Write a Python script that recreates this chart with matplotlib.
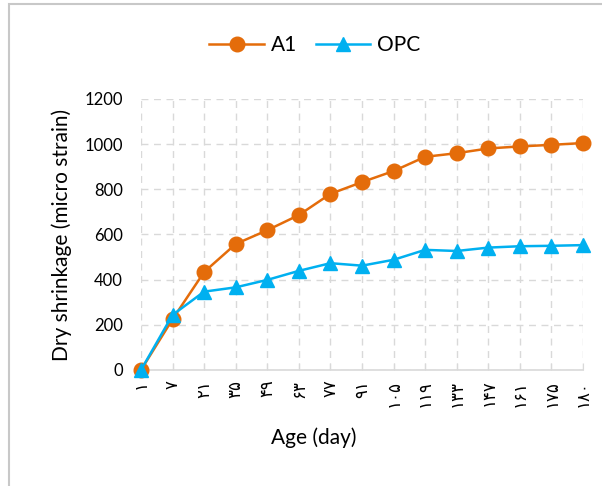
import matplotlib.pyplot as plt
from matplotlib.patches import Rectangle

# ages shown as Persian digits on the x axis
ages = ['۱', '۷', '۲۱', '۳۵', '۴۹', '۶۳', '۷۷', '۹۱', '۱۰۵', '۱۱۹',
        '۱۳۳', '۱۴۷', '۱۶۱', '۱۷۵', '۱۸۰']
a1 = [0, 225, 434, 558, 619, 686, 780, 832, 881, 944, 960, 981, 990, 997, 1005]
opc = [0, 244, 347, 366, 399, 439, 473, 462, 488, 532, 527, 542, 548, 550, 553]

plt.rcParams['font.family'] = ['Lato', 'DejaVu Sans']

fig = plt.figure(figsize=(6.02, 4.86), dpi=100)
ax = fig.add_axes([141/602, 1 - 370/486, 442/602, 271/486])

x = list(range(len(ages)))
orange = '#E46C0A'
blue = '#00B0F0'
ax.plot(x, a1, color=orange, linewidth=1.8, marker='o', markersize=10.5,
        label='A1', clip_on=False, zorder=3)
ax.plot(x, opc, color=blue, linewidth=1.8, marker='^', markersize=10,
        label='OPC', clip_on=False, zorder=4)

ax.set_xlim(0, len(ages) - 1)
ax.set_ylim(0, 1200)
ax.set_yticks(range(0, 1201, 200))
ax.set_xticks(x)
ax.set_xticklabels(ages, rotation=90, family=['DejaVu Sans'], fontsize=12)
ax.tick_params(axis='y', length=0, labelsize=12, pad=13)
ax.tick_params(axis='x', direction='in', length=5, color='#D9D9D9', pad=7)

ax.grid(True, color='#D9D9D9', linestyle=(0, (5, 4)), linewidth=1)
for s in ['left', 'right', 'top']:
    ax.spines[s].set_visible(False)
ax.spines['bottom'].set_color('#D9D9D9')
ax.spines['bottom'].set_linewidth(1.2)

fig.text(62/602, 1 - 235/486, 'Dry shrinkage (micro strain)', fontsize=15,
         rotation=90, ha='center', va='center')
fig.text(314/602, 1 - 438/486, 'Age (day)', fontsize=15,
         ha='center', va='center')

handles, labels = ax.get_legend_handles_labels()
fig.legend(handles, labels, loc='center', bbox_to_anchor=(315/602, 1 - 45/486),
           ncol=2, frameon=False, fontsize=15, handlelength=2.6,
           columnspacing=0.9, handletextpad=0.35)

# outer chart border
fig.patches.append(Rectangle((9/602, -0.1), 1.1, 1 - 4.5/486 + 0.1,
                             transform=fig.transFigure, fill=False,
                             edgecolor='#C8C8C8', linewidth=1.5))

fig.savefig('out.png', dpi=100)
